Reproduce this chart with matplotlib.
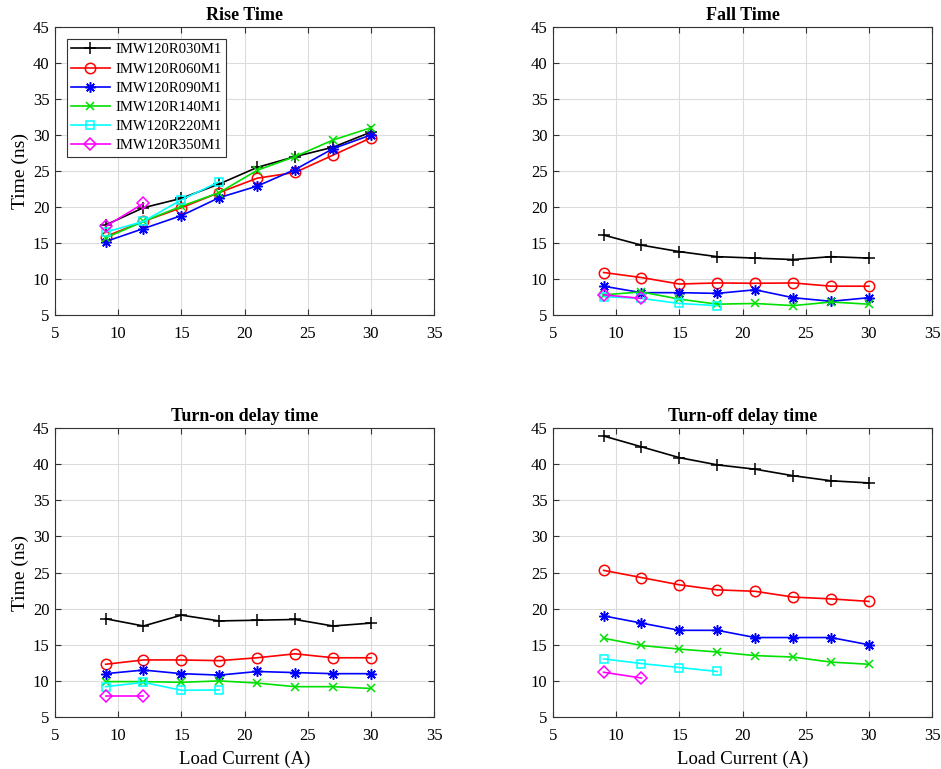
import matplotlib
matplotlib.use("Agg")
import matplotlib.pyplot as plt

plt.rcParams["font.family"] = ["Liberation Serif", "DejaVu Serif"]

current = [9, 12, 15, 18, 21, 24, 27, 30]
names = ["IMW120R030M1", "IMW120R060M1", "IMW120R090M1",
         "IMW120R140M1", "IMW120R220M1", "IMW120R350M1"]
colors = ["black", "red", "blue", "#00e000", "cyan", "magenta"]
markers = ["+", "o", (8, 2, 0), "x", "s", "D"]
msizes = [8, 7.5, 7.5, 6, 6, 6]

rise_030 = [17.5, 19.9, 21.2, 23.2, 25.5, 27.0, 28.3, 30.4]
rise_060 = [15.9, 18.0, 19.9, 22.0, 24.0, 24.8, 27.2, 29.6]
rise_090 = [15.2, 17.0, 18.8, 21.3, 22.9, 25.2, 28.1, 30.0]
rise_140 = [15.7, 18.0, 20.1, 22.0, 25.1, 27.0, 29.3, 31.0]
rise_220 = [16.5, 18.0, 21.0, 23.5]
rise_350 = [17.3, 20.5]

fall_030 = [16.1, 14.7, 13.8, 13.1, 12.9, 12.7, 13.1, 12.9]
fall_060 = [10.9, 10.2, 9.3, 9.45, 9.4, 9.45, 9.0, 9.0]
fall_090 = [9.0, 8.1, 8.1, 8.0, 8.5, 7.4, 6.9, 7.4]
fall_140 = [7.8, 8.2, 7.2, 6.5, 6.6, 6.3, 6.8, 6.5]
fall_220 = [7.55, 7.3, 6.6, 6.3]
fall_350 = [7.8, 7.3]

ton_030 = [18.6, 17.6, 19.1, 18.3, 18.4, 18.5, 17.6, 18.0]
ton_060 = [12.3, 12.9, 12.9, 12.8, 13.2, 13.75, 13.2, 13.2]
ton_090 = [11.0, 11.5, 11.0, 10.8, 11.3, 11.15, 11.0, 11.0]
ton_140 = [9.9, 9.9, 9.8, 10.0, 9.7, 9.2, 9.2, 8.95]
ton_220 = [9.2, 9.8, 8.7, 8.75]
ton_350 = [7.9, 7.9]

toff_030 = [43.9, 42.4, 40.9, 39.9, 39.3, 38.4, 37.7, 37.4]
toff_060 = [25.3, 24.3, 23.3, 22.6, 22.4, 21.6, 21.35, 21.0]
toff_090 = [19.0, 18.0, 17.0, 17.0, 16.0, 16.0, 16.0, 15.0]
toff_140 = [15.9, 14.9, 14.4, 14.0, 13.5, 13.3, 12.6, 12.3]
toff_220 = [13.05, 12.4, 11.85, 11.3]
toff_350 = [11.2, 10.4]

panels = [
    ("Rise Time", [rise_030, rise_060, rise_090, rise_140, rise_220, rise_350]),
    ("Fall Time", [fall_030, fall_060, fall_090, fall_140, fall_220, fall_350]),
    ("Turn-on delay time", [ton_030, ton_060, ton_090, ton_140, ton_220, ton_350]),
    ("Turn-off delay time", [toff_030, toff_060, toff_090, toff_140, toff_220, toff_350]),
]

fig = plt.figure(figsize=(9.41, 7.69), dpi=100)
rects = [
    [0.0585, 0.5904, 0.4028, 0.3745],
    [0.5877, 0.5904, 0.4028, 0.3745],
    [0.0585, 0.0676, 0.4028, 0.3758],
    [0.5877, 0.0676, 0.4028, 0.3758],
]

for i, (title, series) in enumerate(panels):
    ax = fig.add_axes(rects[i])
    for name, ys, c, m, ms in zip(names, series, colors, markers, msizes):
        ax.plot(current[:len(ys)], ys, color=c, marker=m, markersize=ms,
                markerfacecolor="none", markeredgewidth=1.1, linewidth=1.2,
                label=name)
    ax.set_xlim(5, 35)
    ax.set_ylim(5, 45)
    ax.set_xticks(range(5, 36, 5))
    ax.set_yticks(range(5, 46, 5))
    ax.grid(True, color="#dcdcdc", linewidth=0.8)
    ax.set_axisbelow(True)
    ax.tick_params(direction="in", top=True, right=True, labelsize=12,
                   length=4, color="#333333")
    ax.tick_params(axis="x", pad=8)
    ax.tick_params(axis="y", pad=4)
    for s in ax.spines.values():
        s.set_color("#333333")
        s.set_linewidth(0.8)
    ax.set_title(title, fontsize=13, fontweight="bold", pad=5)
    if i % 2 == 0:
        ax.set_ylabel("Time (ns)", fontsize=14, labelpad=3)
    if i >= 2:
        ax.set_xlabel("Load Current (A)", fontsize=13.5, labelpad=5)
    if i == 0:
        leg = ax.legend(loc="upper left", fontsize=10.6, fancybox=False,
                        edgecolor="#333333", framealpha=1, handlelength=2.6,
                        handletextpad=0.4, borderaxespad=0.8, borderpad=0.3,
                        labelspacing=0.4)
        leg.get_frame().set_linewidth(0.8)

fig.savefig("out.png", dpi=100)
